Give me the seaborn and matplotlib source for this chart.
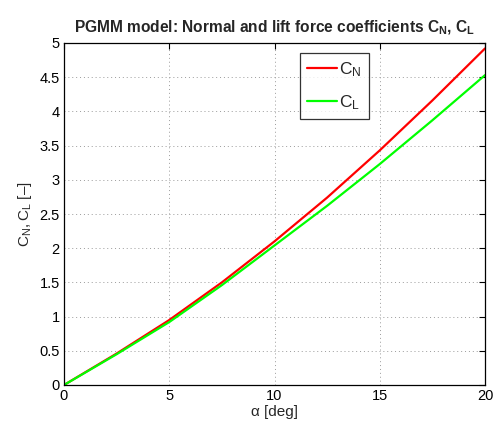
import matplotlib
matplotlib.use("Agg")
import matplotlib.pyplot as plt
import seaborn as sns
import pandas as pd

alpha_deg = [0, 2.5, 5, 7.5, 10, 12.5, 15, 17.5, 20]
c_n = [0.0, 0.46, 0.95, 1.50, 2.10, 2.74, 3.43, 4.16, 4.92]
c_l = [0.0, 0.45, 0.92, 1.46, 2.04, 2.62, 3.23, 3.87, 4.53]
series_names = ["$\\mathregular{C_N}$", "$\\mathregular{C_L}$"]
series_colors = ["#ff0000", "#00ff00"]

df = pd.DataFrame({
    "alpha": alpha_deg * 2,
    "value": c_n + c_l,
    "series": [series_names[0]] * len(alpha_deg) + [series_names[1]] * len(alpha_deg),
})

sns.set_style("white")
plt.rcParams["font.family"] = ["Liberation Sans", "DejaVu Sans"]
plt.rcParams["mathtext.fontset"] = "custom"
plt.rcParams["mathtext.rm"] = "Liberation Sans"
plt.rcParams["mathtext.it"] = "Liberation Sans"
plt.rcParams["mathtext.bf"] = "Liberation Sans:bold"

fig = plt.figure(figsize=(4.93, 4.24), dpi=100)
ax = fig.add_axes([64 / 493, 39 / 424, 421 / 493, 342 / 424])

sns.lineplot(data=df, x="alpha", y="value", hue="series",
             palette=dict(zip(series_names, series_colors)),
             linewidth=1.6, ax=ax, legend=True)

ax.set_xlim(0, 20)
ax.set_ylim(0, 5)
ax.set_xticks([0, 5, 10, 15, 20])
ax.set_yticks([0, 0.5, 1, 1.5, 2, 2.5, 3, 3.5, 4, 4.5, 5])
ax.set_yticklabels(["0", "0.5", "1", "1.5", "2", "2.5", "3", "3.5", "4", "4.5", "5"])
ax.tick_params(direction="in", length=4, width=0.8, labelsize=10.5, colors="black",
               top=True, right=True, pad=3)
ax.grid(True, linestyle=(0, (1, 3)), color="#9a9a9a", linewidth=0.7)
for s in ax.spines.values():
    s.set_visible(True)
    s.set_color("black")
    s.set_linewidth(0.9)

ax.set_xlabel("α [deg]", fontsize=11, labelpad=1)
ax.set_ylabel("$\\mathregular{C_N, C_L}$ [–]", fontsize=11, labelpad=4)
ax.set_title("PGMM model: Normal and lift force coefficients $\\mathbf{C_N}$, $\\mathbf{C_L}$",
             fontsize=11.2, fontweight="bold", pad=8)

leg = ax.legend(loc="upper left", bbox_to_anchor=(0.561, 0.971), borderaxespad=0,
                frameon=True, fancybox=False, edgecolor="black", fontsize=12.5,
                handlelength=1.7, borderpad=0.4, labelspacing=0.85, handletextpad=0.15)
leg.get_frame().set_linewidth(0.9)
leg.set_title(None)

fig.savefig("out.png", dpi=100)
